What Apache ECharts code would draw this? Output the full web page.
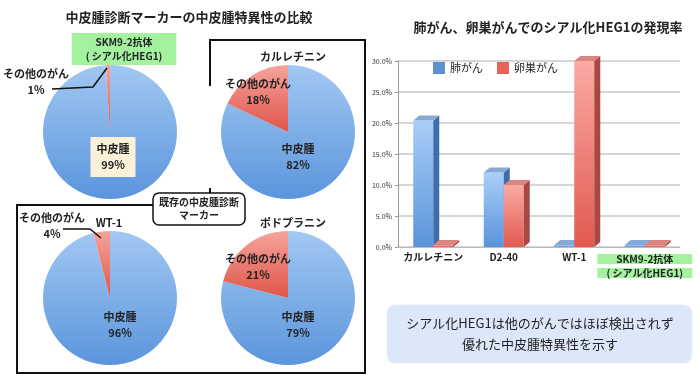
<!DOCTYPE html>
<html>
<head>
<meta charset="utf-8">
<script src="https://cdn.jsdelivr.net/npm/echarts@6/dist/echarts.min.js"></script>
<style>
  html, body { margin: 0; padding: 0; background: #fff; }
  #main { width: 700px; height: 377px; }
</style>
</head>
<body>
<div id="main"></div>
<script>
// 中皮腫マーカーの円グラフ + シアル化HEG1 の棒グラフ

const pieTitles = ['SKM9-2抗体\n( シアル化HEG1)', 'カルレチニン', 'WT-1', 'ポドプラニン']
const sliceNames = ['中皮腫', 'その他のがん']
const mesoValues = [99, 82, 96, 79]
const otherValues = [1, 18, 4, 21]

const barCategories = ['カルレチニン', 'D2-40', 'WT-1', 'SKM9-2抗体\n( シアル化HEG1)']
const lungValues = [20.4, 12.0, 0, 0]
const ovarianValues = [0, 10.0, 30.0, 0]
const seriesNames = ['肺がん', '卵巣がん']
const yMin = 0, yMax = 30, yStep = 5

const FONT = '"Noto Sans CJK JP", "Noto Sans", sans-serif'

// 円の位置と、ラベルの置き場所
const pieCenters = [[110, 132], [288, 132], [110, 298], [288, 298]]
const labelSpots = [
  [[113, 157], [36, 82]],
  [[298, 157], [258, 92]],
  [[120, 325], [52, 226]],
  [[298, 325], [258, 267]]
]

const blue = new echarts.graphic.LinearGradient(0, 0, 0, 1, [
  {offset: 0, color: '#a2c8f3'}, {offset: 1, color: '#5b95dc'}
])
const red = new echarts.graphic.LinearGradient(0, 0, 0, 1, [
  {offset: 0, color: '#f6a49b'}, {offset: 1, color: '#de5449'}
])

const pieSeries = pieCenters.map((c, k) => ({
  type: 'pie',
  center: c,
  radius: 67,
  startAngle: 90,
  silent: true,
  animation: false,
  labelLine: {show: false},
  data: [
    {
      name: sliceNames[0], value: mesoValues[k],
      itemStyle: {color: blue},
      label: {
        backgroundColor: k === 0 ? '#fbf1da' : 'transparent',
        padding: k === 0 ? [4, 6] : 0
      }
    },
    {
      name: sliceNames[1], value: otherValues[k],
      itemStyle: {color: red}
    }
  ],
  label: {
    position: 'inside',
    overflow: 'none',
    formatter: '{b}\n{c}%',
    fontFamily: FONT,
    fontSize: 11,
    fontWeight: 'bold',
    color: '#222',
    lineHeight: 16,
    align: 'center'
  },
  labelLayout: p => {
    const s = labelSpots[k][p.dataIndex]
    return {x: s[0], y: s[1], align: 'center', verticalAlign: 'middle'}
  }
}))

// 立体っぽい棒（前面・側面・上面）
function prism(front, side, topc, dx) {
  return (params, api) => {
    const base = api.coord([api.value(0), 0])
    const top = api.coord([api.value(0), api.value(1)])
    const w = 20, d = 6, dd = 5
    const x0 = base[0] + dx
    const y0 = Math.min(top[1], base[1] - 2)
    const yb = base[1]
    return {
      type: 'group',
      children: [
        {type: 'rect', shape: {x: x0, y: y0, width: w, height: yb - y0}, style: {fill: front}},
        {type: 'polygon', shape: {points: [[x0 + w, y0], [x0 + w + d, y0 - dd], [x0 + w + d, yb - dd], [x0 + w, yb]]}, style: {fill: side}},
        {type: 'polygon', shape: {points: [[x0, y0], [x0 + d, y0 - dd], [x0 + w + d, y0 - dd], [x0 + w, y0]]}, style: {fill: topc}}
      ]
    }
  }
}

const lungFront = new echarts.graphic.LinearGradient(0, 0, 0, 1, [
  {offset: 0, color: '#a9cff8'}, {offset: 1, color: '#5a93da'}
])
const ovFront = new echarts.graphic.LinearGradient(0, 0, 0, 1, [
  {offset: 0, color: '#fbaaa3'}, {offset: 1, color: '#e1594f'}
])

const chart = echarts.init(document.getElementById('main'))

chart.setOption({
  backgroundColor: '#fff',
  animation: false,
  textStyle: {fontFamily: FONT},
  title: [
    {text: '中皮腫診断マーカーの中皮腫特異性の比較', left: 184, top: 6, textAlign: 'center',
      textStyle: {fontSize: 13, fontWeight: 'bold', color: '#222', fontFamily: FONT}},
    {text: '肺がん、卵巣がんでのシアル化HEG1の発現率', left: 543, top: 16, textAlign: 'center',
      textStyle: {fontSize: 13, fontWeight: 'bold', color: '#222', fontFamily: FONT}},
    {text: pieTitles[0], left: 110, top: 33, textAlign: 'center', backgroundColor: '#a4f2a0', padding: [2, 14],
      textStyle: {fontSize: 10, fontWeight: 'bold', color: '#222', lineHeight: 14, fontFamily: FONT}},
    {text: pieTitles[1], left: 288, top: 46, textAlign: 'center',
      textStyle: {fontSize: 11, fontWeight: 'bold', color: '#222', fontFamily: FONT}},
    {text: pieTitles[2], left: 104, top: 212, textAlign: 'center',
      textStyle: {fontSize: 11, fontWeight: 'bold', color: '#222', fontFamily: FONT}},
    {text: pieTitles[3], left: 288, top: 212, textAlign: 'center',
      textStyle: {fontSize: 11, fontWeight: 'bold', color: '#222', fontFamily: FONT}}
  ],
  legend: {
    data: seriesNames,
    left: 428, top: 57,
    itemWidth: 12, itemHeight: 12, itemGap: 14,
    icon: 'rect',
    textStyle: {fontSize: 11, color: '#222', fontFamily: FONT}
  },
  grid: {left: 398, right: 20, top: 61, bottom: 130},
  xAxis: {
    type: 'category',
    data: barCategories,
    axisLine: {lineStyle: {color: '#bbb'}},
    axisTick: {show: false},
    axisLabel: {
      interval: 0,
      margin: 5,
      fontSize: 10,
      fontWeight: 'bold',
      color: '#222',
      formatter: (v, i) => i === 3
        ? v.split('\n').map(t => '{g|' + t + '}').join('\n')
        : v,
      rich: {
        g: {backgroundColor: '#a4f2a0', width: 95, align: 'center', lineHeight: 14,
          fontSize: 10, fontWeight: 'bold', color: '#222'}
      }
    }
  },
  yAxis: {
    type: 'value',
    min: yMin, max: yMax, interval: yStep,
    axisLine: {show: true, lineStyle: {color: '#999'}},
    axisTick: {show: true, length: 3},
    axisLabel: {fontSize: 7, color: '#333', margin: 6, formatter: v => v.toFixed(1) + '%'},
    splitLine: {lineStyle: {color: '#c8c8c8', width: 1.5}}
  },
  series: [
    ...pieSeries,
    {
      type: 'custom',
      name: seriesNames[0],
      itemStyle: {color: '#5f91d0'},
      renderItem: prism(lungFront, '#3f6eab', '#86a9d8', -20),
      encode: {x: 0, y: 1},
      data: lungValues.map((v, i) => [i, v])
    },
    {
      type: 'custom',
      name: seriesNames[1],
      itemStyle: {color: '#e8625a'},
      renderItem: prism(ovFront, '#a94842', '#d98580', 0),
      encode: {x: 0, y: 1},
      data: ovarianValues.map((v, i) => [i, v])
    }
  ],
  graphic: [
    // 枠線
    {type: 'polyline', shape: {points: [[210, 86], [210, 40], [365, 40], [365, 373], [17, 373], [17, 205], [153, 205]]},
      style: {stroke: '#111', lineWidth: 2, fill: null}, z: 5},
    {type: 'line', shape: {x1: 210, y1: 188, x2: 210, y2: 193}, style: {stroke: '#111', lineWidth: 2}, z: 5},
    // 小さい扇形の引き出し線
    {type: 'polyline', shape: {points: [[52, 89], [93, 87], [107, 68]]},
      style: {stroke: '#111', lineWidth: 1.5, fill: null}, z: 5},
    {type: 'polyline', shape: {points: [[63, 229], [90, 229], [101, 238]]},
      style: {stroke: '#111', lineWidth: 1.5, fill: null}, z: 5},
    // 既存マーカーの吹き出し
    {type: 'rect', shape: {x: 153, y: 193, width: 92, height: 32, r: 6},
      style: {fill: '#fff', stroke: '#111', lineWidth: 1.5}, z: 6},
    {type: 'text', x: 199, y: 209, z: 7,
      style: {text: '既存の中皮腫診断\nマーカー', fontSize: 10, fontWeight: 'bold', fill: '#222',
        align: 'center', verticalAlign: 'middle', lineHeight: 13, fontFamily: FONT}},
    // まとめの文
    {type: 'rect', shape: {x: 387, y: 305, width: 305, height: 58, r: 8},
      style: {fill: '#dde7fa', stroke: '#e8eefa', lineWidth: 1}},
    {type: 'text', x: 540, y: 334, z: 3,
      style: {text: 'シアル化HEG1は他のがんではほぼ検出されず\n優れた中皮腫特異性を示す', fontSize: 13,
        fill: '#222', align: 'center', verticalAlign: 'middle', lineHeight: 21, fontFamily: FONT}}
  ]
})
</script>
</body>
</html>
